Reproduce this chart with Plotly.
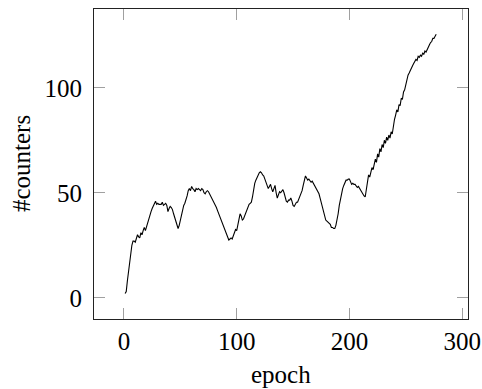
import plotly.graph_objects as go

epochs = list(range(1, 278))
counters = [
    2, 3, 8, 13, 18, 22, 25, 27, 27, 26.5,
    28, 30, 29, 28.5, 31, 30, 32, 33.5, 32, 34,
    36, 37.5, 39, 41, 42.5, 44, 45.5, 46, 44.5, 45,
    44.5, 44.5, 44.5, 45.5, 44, 44.5, 45, 44, 41, 42.5,
    43.5, 43, 42, 40, 38.5, 37, 35, 33, 34.5, 37,
    39.5, 42, 44, 45, 46.5, 48.5, 51, 52, 51, 53,
    52, 51.5, 50.5, 52, 51.5, 52, 51.5, 51, 52, 51.5,
    50, 49.5, 50.5, 51, 50.5, 49.5, 48.5, 47.5, 46, 45.5,
    44, 43, 41.5, 40, 38.5, 37.5, 36, 34.5, 33, 31.5,
    30, 28.5, 27.5, 28, 28.5, 28, 29.5, 31, 32.5, 32,
    35, 38, 40, 39, 37, 37.5, 39, 40.5, 41, 43,
    44.5, 45, 45.5, 48, 52, 54.5, 56, 57.5, 58.5, 59.5,
    60, 59.5, 58.5, 58, 56.5, 55, 53, 52, 53, 54,
    52, 50.5, 52, 53.5, 50, 47.5, 49, 50.5, 50, 51,
    51.5, 50, 48, 46, 45.5, 46.5, 46.5, 47.5, 46, 44,
    43.5, 44.5, 45.5, 45.5, 47, 48, 49, 51, 53.5, 56,
    58, 57, 56, 56.5, 55.5, 55, 55.5, 54.5, 54, 53,
    52, 51, 49.5, 47.5, 45.5, 43.5, 41, 38.5, 37, 36.5,
    36, 35.5, 35, 33.5, 33.5, 33, 33, 34.5, 37, 40,
    44, 47, 49.5, 52, 53.5, 55, 56, 56, 56.5, 56.5,
    55.5, 54, 54.5, 54, 54, 53, 52.5, 53, 52, 51,
    50, 49.5, 48.5, 48, 52, 56, 58.5, 57.5, 60.5, 62,
    61, 64.5, 66, 64.5, 68.5, 67, 71, 69.5, 73, 71.5,
    75, 73.5, 76.5, 75, 77.5, 76, 79, 78, 83, 85,
    87, 89.5, 88.5, 92, 91.5, 95, 94.5, 98, 99, 102,
    103.5, 106, 107, 108.5, 110, 110.5, 111.5, 112.5, 113.5, 113,
    115, 114.5, 115.5, 115, 116.5, 116, 117.5, 117, 118.5, 119.5,
    120.5, 121.5, 122, 123.5, 123.5, 124.5, 125.5,
]
x_ticks = [0, 100, 200, 300]
y_ticks = [0, 50, 100]
x_label = "epoch"
y_label = "#counters"

FONT = "Liberation Serif"

fig = go.Figure()
fig.add_trace(go.Scatter(
    x=epochs, y=counters, mode="lines",
    line=dict(color="black", width=1.1),
    showlegend=False, hoverinfo="skip",
))

axis_common = dict(
    showgrid=False, zeroline=False, automargin=False,
    showline=True, linecolor="#222222", linewidth=1,
    mirror="ticks", ticks="inside", ticklen=11, tickwidth=1,
    tickcolor="#a0a0a0",
    tickfont=dict(family=FONT, size=25, color="black"),
)

fig.update_layout(
    width=482, height=389,
    margin=dict(l=94, r=14, t=9, b=70),
    paper_bgcolor="white", plot_bgcolor="white",
    font=dict(family=FONT, size=25, color="black"),
    xaxis=dict(range=[-26.6, 305.2], tickvals=x_ticks, **axis_common),
    yaxis=dict(range=[-10.1, 137.5], tickvals=y_ticks, ticklabelstandoff=6,
               **axis_common),
    annotations=[
        dict(text=x_label, xref="paper", yref="paper", x=0.5, y=-0.128,
             xanchor="center", yanchor="top", showarrow=False,
             font=dict(family=FONT, size=25, color="black")),
        dict(text=y_label, xref="paper", yref="paper", x=-0.195, y=0.5,
             xanchor="center", yanchor="middle", textangle=-90, showarrow=False,
             font=dict(family=FONT, size=25, color="black")),
    ],
)

fig.write_html(
    "out.html",
    config={"displayModeBar": False},
    post_script="document.body.style.margin='0';document.body.style.padding='0';",
)
